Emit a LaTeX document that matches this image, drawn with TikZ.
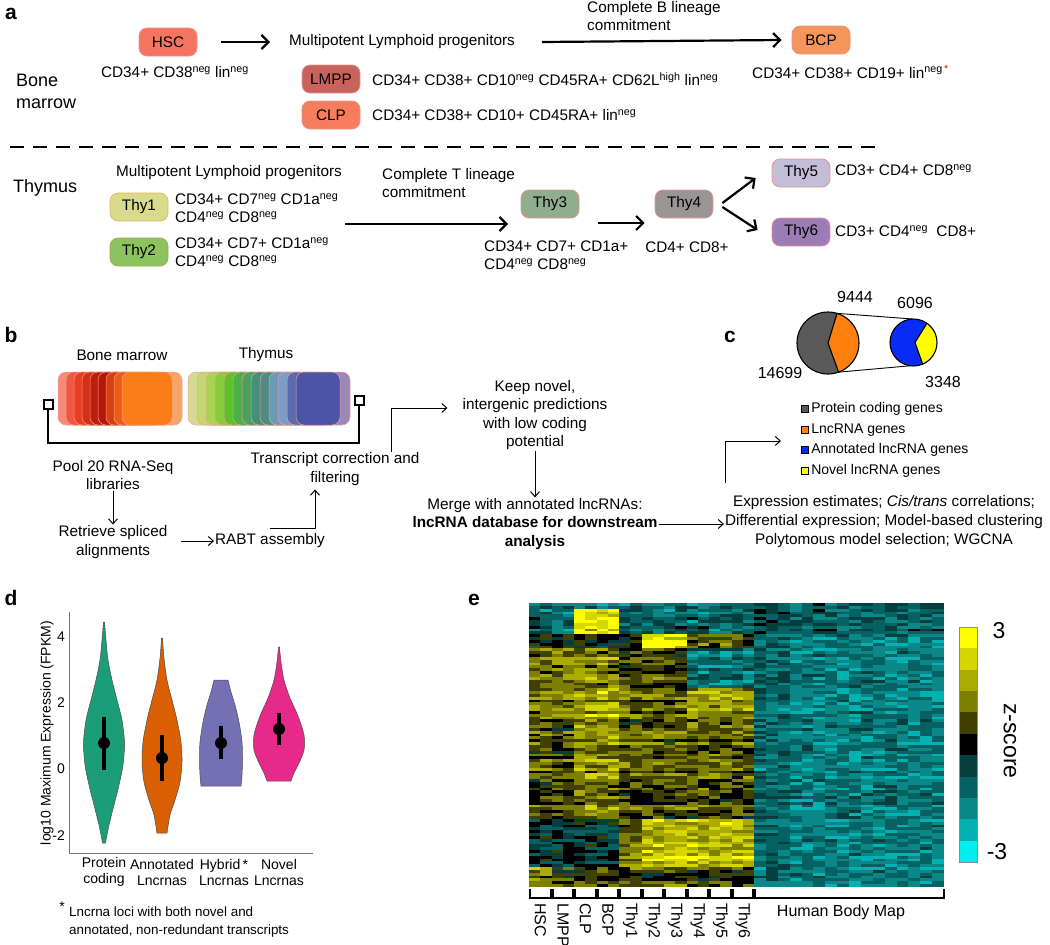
\documentclass[tikz,border=0pt]{standalone}
\usepackage{fontspec}
\setmainfont{Liberation Sans}
\usepackage{tikz}
\usetikzlibrary{arrows.meta, positioning, calc}
\definecolor{hscred}{HTML}{F47461}
\definecolor{lmppred}{HTML}{C8625C}
\definecolor{clpred}{HTML}{F57D5E}
\definecolor{bcporange}{HTML}{F4955B}
\definecolor{thyone}{HTML}{D9DB8C}
\definecolor{thytwo}{HTML}{8DC35F}
\definecolor{thythree}{HTML}{8FAE8D}
\definecolor{thyfour}{HTML}{9A9595}
\definecolor{thyfive}{HTML}{C4BDD8}
\definecolor{thysix}{HTML}{9C7CB7}
\definecolor{cellrim}{HTML}{E8938A}
\definecolor{layerrim}{HTML}{F0A090}
\definecolor{pcgray}{HTML}{595959}
\definecolor{lncorange}{HTML}{FF7F0E}
\definecolor{annblue}{HTML}{0A2BF5}
\definecolor{novyellow}{HTML}{FFFF00}
\definecolor{vgreen}{HTML}{1B9E77}
\definecolor{vorange}{HTML}{D95F02}
\definecolor{vpurple}{HTML}{7570B3}
\definecolor{vpink}{HTML}{E7298A}
\definecolor{z10}{HTML}{FFFF00}
\definecolor{z9}{HTML}{D6D600}
\definecolor{z8}{HTML}{ABAB00}
\definecolor{z7}{HTML}{7E7E00}
\definecolor{z6}{HTML}{404000}
\definecolor{z5}{HTML}{000000}
\definecolor{z4}{HTML}{053E3E}
\definecolor{z3}{HTML}{066262}
\definecolor{z2}{HTML}{0A8888}
\definecolor{z1}{HTML}{00B2B2}
\definecolor{z0}{HTML}{00EEEE}
\newcommand{\sneg}{\textsuperscript{neg}}
\newcommand{\shigh}{\textsuperscript{high}}

\begin{document}
\begin{tikzpicture}[
    x=1pt, y=-1pt,
    node distance=1pt,
    every node/.style={font=\fontsize{15.3}{18.3}\selectfont, inner sep=1pt},
    panel/.style={font=\fontsize{21}{24}\selectfont\bfseries},
    tissue/.style={font=\fontsize{18}{22}\selectfont, align=left, anchor=west},
    cell/.style={rectangle, rounded corners=8pt, draw=cellrim, line width=0.7pt,
                 minimum width=58pt, minimum height=28pt, inner sep=0pt},
    marker/.style={align=left, anchor=west},
    stepnote/.style={align=center},
    bigarrow/.style={-{Straight Barb[length=7pt, width=14pt]}, line width=2.2pt},
    thinarrow/.style={-{Straight Barb[length=5pt, width=9pt]}, line width=1pt},
    divider/.style={line width=2.2pt, dash pattern=on 14pt off 9pt},
    layerbox/.style={rounded corners=8pt, draw=layerrim, line width=0.5pt},
    sqr/.style={rectangle, draw, line width=2pt, minimum size=9pt, inner sep=0pt, fill=white},
    bracket/.style={line width=2.2pt},
    pie/.style={circle, inner sep=0pt, outer sep=0pt},
    pieline/.style={line width=1.1pt},
    legsq/.style={rectangle, draw, line width=0.6pt, minimum size=7.5pt, inner sep=0pt},
    legtxt/.style={font=\fontsize{14}{16}\selectfont, anchor=west},
    small/.style={font=\fontsize{14}{16}\selectfont},
    violin/.style={draw=black!70, line width=0.5pt},
    heatlab/.style={font=\fontsize{16}{18}\selectfont, rotate=-90, anchor=west}
]
    \useasboundingbox (0,0) rectangle (1050,945);

    % Panel a: bone marrow
    \node[panel] (pa) at (11,14) {a};
    \node[cell, fill=hscred] (hsc) at (168,42) {HSC};
    \node (hsccd) at (175,72) {CD34+ CD38\sneg\ lin\sneg};
    \node[tissue] (bone) at (15,91) {Bone\\marrow};
    \node[marker] (mlpbm) at (288,42) {Multipotent Lymphoid progenitors};
    \node[marker] (bline) at (586,16) {Complete B lineage\\commitment};
    \node[cell, fill=bcporange] (bcp) at (821,40) {BCP};
    \node[marker] (bcpcd) at (751,72) {CD34+ CD38+ CD19+ lin\textsuperscript{neg\,{\color{red}*}}};
    \node[cell, fill=lmppred] (lmpp) at (331,79) {LMPP};
    \node[marker] (lmppcd) at (371,79) {CD34+ CD38+ CD10\sneg\ CD45RA+ CD62L\shigh\ lin\sneg};
    \node[cell, fill=clpred] (clp) at (331,115) {CLP};
    \node[marker] (clpcd) at (371,115) {CD34+ CD38+ CD10+ CD45RA+ lin\sneg};

    \draw[bigarrow] ([xshift=24pt]hsc.east) -- ([xshift=-18pt]mlpbm.west);
    \draw[bigarrow] ([xshift=26pt]mlpbm.east) -- ([xshift=-10pt]bcp.west);

    \draw[divider] (10,147) -- (881,147);

    % Panel a: thymus
    \node[tissue] (thymus) at (12,188) {Thymus};
    \node[marker] (mlpthy) at (115,173) {Multipotent Lymphoid progenitors};
    \node[cell, fill=thyone, draw=thyone!60!orange] (thy1) at (139,207) {Thy1};
    \node[marker] (thy1cd) at (174,208) {CD34+ CD7\sneg\ CD1a\sneg\\CD4\sneg\ CD8\sneg};
    \node[cell, fill=thytwo, draw=thytwo!60!brown] (thy2) at (139,252) {Thy2};
    \node[marker] (thy2cd) at (174,252) {CD34+ CD7+ CD1a\sneg\\CD4\sneg\ CD8\sneg};
    \node[marker] (tline) at (381,183) {Complete T lineage\\commitment};
    \node[cell, fill=thythree] (thy3) at (550,204) {Thy3};
    \node[marker] (thy3cd) at (483,255) {CD34+ CD7+ CD1a+\\CD4\sneg\ CD8\sneg};
    \node[cell, fill=thyfour] (thy4) at (684,204) {Thy4};
    \node (thy4cd) at (687,247) {CD4+ CD8+};
    \node[cell, fill=thyfive] (thy5) at (801,173) {Thy5};
    \node[marker] (thy5cd) at (834,170) {CD3+ CD4+ CD8\sneg};
    \node[cell, fill=thysix] (thy6) at (801,232) {Thy6};
    \node[marker] (thy6cd) at (834,231) {CD3+ CD4\sneg\ \ CD8+};

    \coordinate (tfrom) at (345,224);
    \coordinate (tto) at (508,224);
    \coordinate (t34) at (598,223);
    \draw[bigarrow] (tfrom) -- (tto);
    \draw[bigarrow, shorten >=10pt] (t34) -- (t34 -| thy4.west);
    \draw[bigarrow] ([xshift=9pt, yshift=1pt]thy4.east) -- ([xshift=-16pt, yshift=-5pt]thy5.west);
    \draw[bigarrow] ([xshift=9pt, yshift=-3pt]thy4.east) -- ([xshift=-14pt, yshift=2pt]thy6.west);

    % Panel b: pooled libraries
    \node[panel] (pb) at (11,335) {b};
    \node (bmlab) at (122,355) {Bone marrow};
    \node (thylab) at (266,355) {Thymus};
    \draw[layerbox, fill={rgb,255:red,249;green,164;blue,106}] (132,372) rectangle ++(50,53);
    \foreach \shade [count=\k from 0] in {F58A76,F4553F,EC3C24,D62E18,C01E0C,B5180A,D6400E,EE5C14,FB7B16} {
        \definecolor{tmp}{HTML}{\shade}
        \draw[layerbox, fill=tmp] ({58+8*\k},372) rectangle ++(50,53);
    }
    \draw[layerbox, fill={rgb,255:red,156;green,136;blue,184}] (300,372) rectangle ++(50,53);
    \foreach \shade [count=\k from 0] in {D4DA94,C4D872,A8D455,86CB3C,5CC22C,4CB048,4AA060,45907A,4F8C84,6A9CB8,7A9CC8,5A6CB0,4A55A8} {
        \definecolor{tmp}{HTML}{\shade}
        \draw[layerbox, fill=tmp] ({188+9*\k},372) rectangle ++(44,53);
    }
    \node[sqr] (poolL) at (48,404) {};
    \node[sqr] (poolR) at (359,400) {};
    \coordinate (brk) at (48,443);
    \draw[bracket] (poolL) -- (brk) -| (poolR);

    % Panel b: steps
    \node[stepnote] (pool) at (113,475) {Pool 20 RNA-Seq\\libraries};
    \node[stepnote] (retrieve) at (113,542) {Retrieve spliced\\alignments};
    \node[marker] (rabt) at (214,541) {RABT assembly};
    \node[stepnote] (transcript) at (335,469) {Transcript correction and\\filtering};
    \node[stepnote] (keep) at (535,415) {Keep novel,\\intergenic predictions\\with low coding\\potential};
    \node[stepnote] (merge) at (535,524) {Merge with annotated lncRNAs:\\\textbf{lncRNA database for downstream}\\\textbf{analysis}};
    \node[stepnote, font=\fontsize{15.3}{19}\selectfont] (expr) at (884,522) {Expression estimates; \textit{Cis/trans} correlations;\\Differential expression; Model-based clustering\\Polytomous model selection; WGCNA};
    \coordinate (legin) at (781,441);

    \draw[thinarrow] (pool) -- (retrieve);
    \draw[thinarrow, shorten <=12pt] (retrieve.east |- rabt.west) -- (rabt.west);
    \draw[thinarrow, shorten >=3pt] ([yshift=4pt]rabt.north) -| ([xshift=-20pt]transcript.south);
    \draw[thinarrow, shorten >=14pt] ([xshift=56pt]transcript.north) |- ([yshift=7pt]keep.west);
    \draw[thinarrow] (keep) -- (merge);
    \draw[thinarrow] (merge) -- (merge -| expr.west);
    \draw[thinarrow, shorten <=12pt] ([xshift=-159pt]expr.north) |- (legin);

    % Panel c: gene counts
    \node[panel] (pc) at (730,337) {c};
    \node[pie, fill=pcgray, minimum size=62pt] (pcpie) at (828,343) {};
    \node[pie, fill=annblue, minimum size=47pt] (lncpie) at (913.5,342.5) {};
    \fill[lncorange] (pcpie.73) arc[start angle=73, end angle=-70, radius=31pt] -- (pcpie.center) -- cycle;
    \fill[novyellow] (lncpie.55) arc[start angle=55, end angle=-67, radius=23.5pt] -- ([xshift=1.5pt]lncpie.center) -- cycle;
    \draw[pieline] (pcpie.73) -- (pcpie.center) -- (pcpie.-70);
    \draw[pieline] (lncpie.55) -- ([xshift=1.5pt]lncpie.center) -- (lncpie.-67);
    \draw[pieline] (pcpie.center) circle[radius=31pt];
    \draw[pieline] (lncpie.center) circle[radius=23.5pt];
    \draw[line width=0.9pt] (pcpie.73) -- (lncpie.92);
    \draw[line width=0.9pt] (pcpie.-70) -- (lncpie.-98);
    \node[font=\fontsize{16}{18}\selectfont] (n9444) at (855,297) {9444};
    \node[font=\fontsize{16}{18}\selectfont] (n6096) at (915,303) {6096};
    \node[font=\fontsize{16}{18}\selectfont] (n14699) at (780,373) {14699};
    \node[font=\fontsize{16}{18}\selectfont] (n3348) at (943,382) {3348};

    \node[legsq, fill=pcgray] (legpc) at (805,409) {};
    \node[legtxt, right=of legpc] (legpctxt) {Protein coding genes};
    \node[legsq, fill=lncorange] (leglnc) at (805,430) {};
    \node[legtxt, right=of leglnc] (leglnctxt) {LncRNA genes};
    \node[legsq, fill=annblue] (legann) at (805,450) {};
    \node[legtxt, right=of legann] (leganntxt) {Annotated lncRNA genes};
    \node[legsq, fill=novyellow] (legnov) at (805,471) {};
    \node[legtxt, right=of legnov] (legnovtxt) {Novel lncRNA genes};

    % Panel d: violins
    \node[panel] (pd) at (11,598) {d};
    \draw[black!55, line width=0.8pt] (69,612) -- (69,853) -- (313,853);
    \foreach \v/\yy in {4/637, 2/703, 0/769, -2/836} {
        \node[small, anchor=east] (tick\v) at (66,\yy) {\v};
    }
    \node[small, rotate=90] (ylab) at (47,733) {log10 Maximum Expression (FPKM)};

    \draw[violin, fill=vgreen] plot[smooth] coordinates {(104.5,622) (106,640) (108,660) (112,680) (117,700) (122,720) (124.5,743) (123,765) (119,785) (114,805) (109,825) (105.5,843)}
        -- plot[smooth] coordinates {(102.5,843) (99,825) (94,805) (89,785) (85,765) (83.5,743) (86,720) (91,700) (96,680) (100,660) (102,640) (103.5,622)} -- cycle;
    \draw[violin, fill=vorange] plot[smooth] coordinates {(162.5,638) (164,658) (167,680) (172,700) (177,720) (181,742) (182,762) (180,782) (175,800) (170,815) (167,833)}
        -- plot[smooth] coordinates {(157,833) (154,815) (149,800) (144,782) (142,762) (143,742) (147,720) (152,700) (157,680) (160,658) (161.5,638)} -- cycle;
    \draw[violin, fill=vpurple] plot[smooth] coordinates {(228,680) (231,692) (235,705) (239,722) (242,742) (242.5,760) (242,775) (241,786)}
        -- plot[smooth] coordinates {(201,786) (200,775) (199.5,760) (200,742) (203,722) (207,705) (211,692) (214,680)} -- cycle;
    \draw[violin, fill=vpink] plot[smooth] coordinates {(279.5,647) (281,662) (284,680) (290,698) (298,716) (304,735) (304,750) (299,763) (294,773) (291,781)}
        -- plot[smooth] coordinates {(267,781) (264,773) (259,763) (254,750) (254,735) (260,716) (268,698) (274,680) (277,662) (278.5,647)} -- cycle;
    \foreach \xc/\lo/\md/\hi in {104/770/743/717, 162/781/758/735, 221/759/743/726, 279/745/729/713} {
        \draw[line width=3.5pt] (\xc,\lo) -- (\xc,\hi);
        \fill (\xc,\md) circle[radius=6pt];
    }
    \node[small, align=center, font=\fontsize{14}{16}\selectfont] (vl1) at (104,872) {Protein\\coding};
    \node[small, align=center, font=\fontsize{14}{16}\selectfont] (vl2) at (162,872) {Annotated\\Lncrnas};
    \node[small, align=center, font=\fontsize{14}{16}\selectfont] (vl3) at (224,872) {Hybrid\,*\\Lncrnas};
    \node[small, align=center, font=\fontsize{14}{16}\selectfont] (vl4) at (279,872) {Novel\\Lncrnas};
    \node[small] (footstar) at (62,907) {*};
    \node[small, align=left, anchor=west, font=\fontsize{13.4}{18}\selectfont] (foot) at (68,922) {Lncrna loci with both novel and\\annotated, non-redundant transcripts};

    % Panel e: heatmap
    \node[panel] (pe) at (474,600) {e};
    \pgfmathsetseed{2014}
    \foreach \row in {0,...,99} {
        \pgfmathsetmacro{\rowfx}{0.5*rand}
        \pgfmathsetmacro{\ytop}{603+2.84*\row}
        \foreach \cl in {0,...,35} {
            \pgfmathtruncatemacro{\grp}{\cl/2}
            \pgfmathsetmacro{\xl}{\cl<20 ? 529+11.25*\cl : 754+11.875*(\cl-20)}
            \pgfmathsetmacro{\xr}{\cl<20 ? \xl+11.25 : \xl+11.875}
            \ifnum\cl<20
                \pgfmathsetmacro{\hmean}{(\row<11) ? ((((\grp==2)||(\grp==3))&&(\row>1)) ? 2.7 : -1.1) : ((\row<16) ? (((\grp==5)||(\grp==6)) ? 2.6 : ((\grp>6) ? 0.4 : -0.4)) : ((\row<30) ? ((\grp<4) ? 1.3 : ((\grp>6) ? -1.4 : 0.6)) : ((\row<45) ? ((\grp>6) ? 1.4 : (((\grp==2)||(\grp==3)) ? 1.6 : 0.8)) : ((\row<76) ? (((\grp==2)||(\grp==3)) ? 1.4 : ((\grp<2) ? 0.6 : 0.8)) : ((\row<93) ? ((\grp>4) ? 1.9 : ((\grp<4) ? -0.5 : 1.0)) : ((\grp<1) ? 1.4 : 0.5))))))}
                \pgfmathsetmacro{\val}{\hmean+0.8*rand+\rowfx}
            \else
                \pgfmathsetmacro{\val}{((\row<12) ? -1.1 : -1.6)+((\cl<23) ? 0.3 : 0)+0.75*rand-0.3*\rowfx}
            \fi
            \pgfmathtruncatemacro{\lv}{max(0,min(10,round((\val+3)*10/6)))}
            \fill[fill=z\lv] (\xl,\ytop) rectangle (\xr,\ytop+2.95);
        }
    }
    \foreach \lab [count=\i from 0] in {HSC,LMPP,CLP,BCP,Thy1,Thy2,Thy3,Thy4,Thy5,Thy6} {
        \pgfmathsetmacro{\gx}{530+22.5*\i}
        \draw[line width=2pt] (\gx,889) -- (\gx,898) -- (\gx+20.5,898) -- (\gx+20.5,889);
        \node[heatlab] (lab\lab) at (\gx+10.5,902) {\lab};
    }
    \draw[line width=2pt] (755,889) -- (755,898) -- (944,898) -- (944,889);
    \node[font=\fontsize{16}{18}\selectfont] (hbm) at (841,912) {Human Body Map};

    % Colour bar
    \foreach \lv in {0,...,10} {
        \fill[fill=z\lv] (959,{862-21.36*(\lv+1)}) rectangle (977,{862-21.36*\lv});
    }
    \draw[black!45, line width=0.6pt] (959,627) rectangle (977,862);
    \node[font=\fontsize{23}{26}\selectfont] (zmax) at (999,631) {3};
    \node[font=\fontsize{23}{26}\selectfont] (zmin) at (997,852) {-3};
    \node[font=\fontsize{23}{26}\selectfont, rotate=-90] (zlab) at (1010,741) {z-score};
\end{tikzpicture}
\end{document}
